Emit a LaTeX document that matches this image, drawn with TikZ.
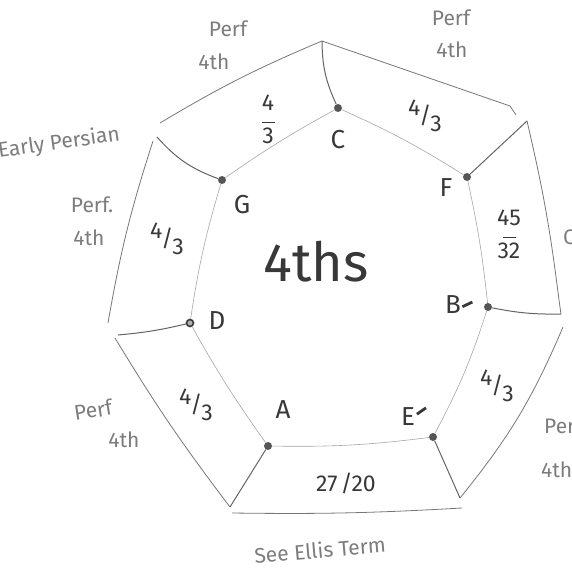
\documentclass[tikz,border=0pt]{standalone}
\usepackage{fontspec}
\setmainfont{Fira Sans}
\definecolor{pencil}{HTML}{767676}
\definecolor{pencillight}{HTML}{A6A6A6}
\definecolor{ink}{HTML}{383838}
\definecolor{notegray}{HTML}{7C7C7C}
\newcommand\slfrac[2]{\raisebox{8pt}{#1}\kern-1pt/\kern-1pt\raisebox{-8pt}{#2}}
\newcommand\stfrac[2]{\begin{tabular}{@{}c@{}}#1\\[-7pt]\rule[3pt]{13pt}{1pt}\\[-6pt]#2\end{tabular}}
\begin{document}
\begin{tikzpicture}[x=1pt,y=-1pt,
  inner/.style={draw=pencillight, line width=0.6pt},
  outer/.style={draw=pencil, line width=0.8pt},
  spoke/.style={draw=pencil!85!black, line width=1pt},
  dot/.style={circle, fill=ink!85, inner sep=0pt, minimum size=8pt},
  ring/.style={circle, draw=ink, line width=1.6pt, fill=ink!40, inner sep=0pt, minimum size=7pt},
  lbl/.style={text=ink, font=\fontsize{26}{26}\selectfont, inner sep=1pt},
  frac/.style={text=ink, font=\fontsize{23}{23}\selectfont, inner sep=1pt},
  note/.style={text=notegray, font=\fontsize{21}{21}\selectfont, inner sep=1pt}]
\useasboundingbox (0,0) rectangle (571,579);

% inner vertices
\node[dot] (C) at (338,108) {};
\node[dot] (F) at (467,177) {};
\node[dot] (B) at (488,307) {};
\node[dot] (E) at (433,437) {};
\node[dot] (A) at (268,446) {};
\node[ring] (D) at (190,323) {};
\node[dot] (G) at (222,180) {};

% outer corners
\coordinate (oGa) at (160,123);
\coordinate (oGs) at (157,137);
\coordinate (oGb) at (153,141);
\coordinate (oC)  at (322,41);
\coordinate (oFh) at (510,106);
\coordinate (oFa) at (516,115);
\coordinate (oFs) at (527,121);
\coordinate (oBa) at (559,300);
\coordinate (oBs) at (561,314);
\coordinate (oBb) at (563,327);
\coordinate (oE)  at (460,498);
\coordinate (oEb) at (462,508);
\coordinate (oA)  at (230,507);
\coordinate (oAb) at (232,513);
\coordinate (oDa) at (108,323);
\coordinate (oDs) at (118,335);
\coordinate (oDb) at (115,338);

% inner heptagon
\draw[inner] (C) to[bend left=4] (F);
\draw[inner] (F) to[bend left=3] (B);
\draw[inner] (B) to[bend left=5] (E);
\draw[inner] (E) to[bend left=4] (A);
\draw[inner] (A) to[bend left=3] (D);
\draw[inner] (D) to[bend left=4] (G);
\draw[inner] (G) to[bend left=3] (C);

% outer ring
\draw[outer] (oGa) to[bend left=4] (oC);
\draw[outer] (oC) -- (oFh) -- (oFa);
\draw[outer] (oFs) to[bend left=3] (oBa) -- (oBs);
\draw[outer] (oBb) to[bend left=8] (oE);
\draw[outer] (oEb) to[bend left=2] (oAb);
\draw[outer] (oA) to[bend left=3] (oDb);
\draw[outer] (oDa) to[bend left=4] (oGb);

% spokes
\draw[spoke] (C) to[bend left=12] (oC);
\draw[spoke] (F) -- (oFs);
\draw[spoke] (B) to[bend right=6] (oBs);
\draw[spoke] (E) -- (oE);
\draw[spoke] (A) -- (oA);
\draw[spoke] (D) to[bend left=4] (oDs);
\draw[spoke] (G) to[bend left=14] (oGs);

% vertex labels
\node[lbl] (lC) at (338,140) {C};
\node[lbl] (lG) at (242,205) {G};
\node[lbl] (lF) at (446,188) {F};
\node[lbl] (lD) at (217,321) {D};
\node[lbl] (lA) at (283,410) {A};
\node[lbl] (lE) at (414,416) {E\kern1pt\raisebox{10pt}{\rotatebox{35}{\rule{11pt}{2.8pt}}}};
\node[lbl] (lB) at (459,305) {B\kern1pt\raisebox{6pt}{\rotatebox{25}{\rule{11pt}{2.8pt}}}};

% center
\node[text=ink, font=\fontsize{54}{54}\selectfont] (ths) at (316,262) {4ths};

% ratios
\node[frac] (r1) at (268,122) {\stfrac{4}{3}};
\node[frac] (r2) at (425,116) {\slfrac{4}{3}};
\node[frac] (r3) at (509,237) {\stfrac{45}{32}};
\node[frac] (r4) at (497,386) {\slfrac{4}{3}};
\node[frac] (r5) at (346,483) {27\kern3pt/20};
\node[frac] (r6) at (196,405) {\slfrac{4}{3}};
\node[frac] (r7) at (167,239) {\slfrac{4}{3}};

% annotations
\node[note] (p1a) at (228,29) {Perf};
\node[note] (p1b) at (214,62) {4th};
\node[note] (p2a) at (451,18) {Perf};
\node[note] (p2b) at (452,50) {4th};
\node[note, rotate=8, anchor=west] (ep) at (-3,152) {Early Persian};
\node[note] (p3a) at (92,205) {Perf.};
\node[note] (p3b) at (89,238) {4th};
\node[note, rotate=9] (p4a) at (93,410) {Perf};
\node[note] (p4b) at (124,440) {4th};
\node[note, anchor=west] (p5a) at (543,426) {Perf};
\node[note, anchor=west] (p5b) at (540,470) {4th};
\node[note, anchor=west] (cut) at (562,237) {C};
\node[note, rotate=5] (see) at (320,550) {See Ellis Term};
\end{tikzpicture}
\end{document}
